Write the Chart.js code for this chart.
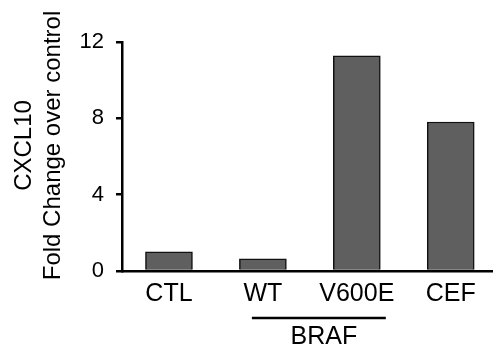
<!DOCTYPE html>
<html>
<head>
<meta charset="utf-8">
<script src="https://cdn.jsdelivr.net/npm/chart.js@4/dist/chart.umd.min.js"></script>
<style>
  html, body { margin: 0; padding: 0; background: #fff; overflow: hidden; }
  canvas { display: block; }
</style>
</head>
<body>
<canvas id="chart" width="493" height="348"></canvas>
<script>
const categories  = ["CTL", "WT", "V600E", "CEF"]
const foldChange  = [1.0, 0.64, 11.27, 7.81]
const yTicks      = [0, 4, 8, 12]
const yTitleLines = ["CXCL10", "Fold Change over control"]
const groupLabel  = "BRAF"
const groupFrom   = 1
const groupTo     = 2

const FONT = "'Liberation Sans', Arial, sans-serif"

// y title drawn by hand so the two lines sit where the figure puts them
const yTitlePlugin = {
  id: "yTitle",
  afterDraw(chart) {
    const { ctx, chartArea } = chart
    const cy = (chartArea.top + chartArea.bottom) / 2 - 11
    ctx.save()
    ctx.fillStyle = "#000"
    ctx.font = `24px ${FONT}`
    ctx.textAlign = "center"
    ctx.textBaseline = "middle"
    const xs = [24, 53]
    yTitleLines.forEach((line, i) => {
      ctx.save()
      ctx.translate(xs[i], cy)
      ctx.rotate(-Math.PI / 2)
      ctx.fillText(line, 0, 0)
      ctx.restore()
    })
    ctx.restore()
  },
}

// bracket under WT / V600E with the group label
const groupPlugin = {
  id: "groupBracket",
  afterDraw(chart) {
    const { ctx } = chart
    const x = chart.scales.x
    const x1 = x.getPixelForValue(groupFrom) - 11
    const x2 = x.getPixelForValue(groupTo) + 29
    const y  = 318
    ctx.save()
    ctx.strokeStyle = "#000"
    ctx.lineWidth = 2.5
    ctx.beginPath()
    ctx.moveTo(x1, y)
    ctx.lineTo(x2, y)
    ctx.stroke()
    ctx.fillStyle = "#000"
    ctx.font = `25px ${FONT}`
    ctx.textAlign = "center"
    ctx.textBaseline = "middle"
    ctx.fillText(groupLabel, (x1 + x2) / 2 + 5, 337)
    ctx.restore()
  },
}

new Chart(document.getElementById("chart"), {
  type: "bar",
  data: {
    datasets: [{
      data: categories.map((c, i) => ({ x: i, y: foldChange[i] })),
      backgroundColor: "#5f5f5f",
      borderColor: "#111",
      borderWidth: 1.5,
      barThickness: 47,
    }],
  },
  options: {
    responsive: false,
    animation: false,
    devicePixelRatio: 1,
    layout: { padding: { top: 42, right: 0, bottom: 0, left: 0 } },
    plugins: {
      legend:  { display: false },
      tooltip: { enabled: false },
    },
    scales: {
      x: {
        type: "linear",
        offset: false,
        min: -0.5,
        max: 3.45,
        afterBuildTicks: s => { s.ticks = categories.map((c, i) => ({ value: i })) },
        afterFit: s => { s.height = 77 },
        grid:   { display: false, drawTicks: false },
        border: { display: true, color: "#000", width: 2.5 },
        ticks:  {
          color: "#000",
          padding: 8,
          maxRotation: 0,
          autoSkip: false,
          font: { family: FONT, size: 25 },
          callback: v => categories[v] ?? "",
        },
      },
      y: {
        min: 0,
        max: 12,
        afterBuildTicks: s => { s.ticks = yTicks.map(v => ({ value: v })) },
        afterFit: s => { s.width = 122 },
        grid:   { drawOnChartArea: false, drawTicks: true, tickLength: 6, color: "#000", lineWidth: 2.5 },
        border: { display: true, color: "#000", width: 2.5 },
        ticks:  {
          color: "#000",
          padding: 12,
          font: { family: FONT, size: 22 },
        },
      },
    },
  },
  plugins: [yTitlePlugin, groupPlugin],
})
</script>
</body>
</html>
